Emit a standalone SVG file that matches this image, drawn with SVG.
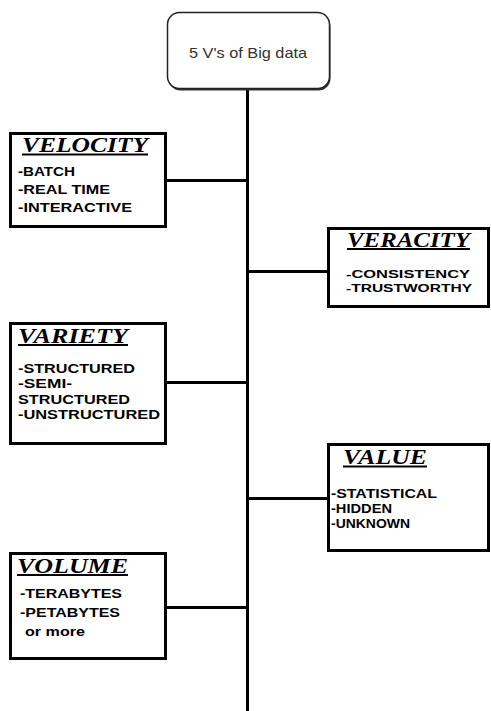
<svg xmlns="http://www.w3.org/2000/svg" width="491" height="711" viewBox="0 0 491 711">
<style>
.box{fill:#fff;stroke:#000;stroke-width:3}
.conn{stroke:#000;stroke-width:3;fill:none}
.title{font-family:"Liberation Serif",serif;font-weight:bold;font-style:italic;font-size:20px;fill:#000}
.ul{stroke:#000;stroke-width:2}
.item{font-family:"Liberation Sans",Arial,sans-serif;font-weight:bold;font-size:12.5px;fill:#000}
.small{font-size:11.5px}
.root{font-family:"Liberation Sans",Arial,sans-serif;font-size:15px;fill:#333}
</style>
<rect width="491" height="711" fill="#fff"/>
<g id="connectors">
<line class="conn" x1="247.5" y1="89" x2="247.5" y2="711"/>
<line class="conn" x1="166" y1="180.5" x2="247.5" y2="180.5"/>
<line class="conn" x1="247.5" y1="271.5" x2="328" y2="271.5"/>
<line class="conn" x1="166" y1="382.5" x2="247.5" y2="382.5"/>
<line class="conn" x1="247.5" y1="498.5" x2="328" y2="498.5"/>
<line class="conn" x1="166" y1="607.5" x2="247.5" y2="607.5"/>
</g>
<g id="root">
<rect x="168.5" y="14.5" width="162" height="76" rx="12" fill="#333"/>
<rect x="167.5" y="12.5" width="162" height="76" rx="12" fill="#fff" stroke="#222" stroke-width="1.5"/>
<text class="root" x="248" y="58" text-anchor="middle" textLength="118" lengthAdjust="spacingAndGlyphs">5 V's of Big data</text>
</g>
<g id="velocity">
<rect class="box" x="10.5" y="133.5" width="155" height="93"/>
<text class="title" x="22" y="152" textLength="126" lengthAdjust="spacingAndGlyphs">VELOCITY</text>
<line class="ul" x1="22" y1="154.5" x2="148" y2="154.5"/>
<text class="item" x="18" y="176" textLength="57" lengthAdjust="spacingAndGlyphs">-BATCH</text>
<text class="item" x="18" y="194" textLength="92" lengthAdjust="spacingAndGlyphs">-REAL TIME</text>
<text class="item" x="18" y="212" textLength="114" lengthAdjust="spacingAndGlyphs">-INTERACTIVE</text>
</g>
<g id="veracity">
<rect class="box" x="328.5" y="228.5" width="160" height="78"/>
<text class="title" x="347" y="247" textLength="123" lengthAdjust="spacingAndGlyphs">VERACITY</text>
<line class="ul" x1="347" y1="249" x2="470" y2="249"/>
<text class="item small" x="346" y="278" textLength="124" lengthAdjust="spacingAndGlyphs">-CONSISTENCY</text>
<text class="item small" x="346" y="292" textLength="126" lengthAdjust="spacingAndGlyphs">-TRUSTWORTHY</text>
</g>
<g id="variety">
<rect class="box" x="10.5" y="323.5" width="155" height="120"/>
<text class="title" x="18" y="343" textLength="110" lengthAdjust="spacingAndGlyphs">VARIETY</text>
<line class="ul" x1="18" y1="345" x2="128" y2="345"/>
<text class="item" x="18" y="373" textLength="117" lengthAdjust="spacingAndGlyphs">-STRUCTURED</text>
<text class="item" x="18" y="388" textLength="54" lengthAdjust="spacingAndGlyphs">-SEMI-</text>
<text class="item" x="18" y="404" textLength="112" lengthAdjust="spacingAndGlyphs">STRUCTURED</text>
<text class="item" x="18" y="419" textLength="142" lengthAdjust="spacingAndGlyphs">-UNSTRUCTURED</text>
</g>
<g id="value">
<rect class="box" x="328.5" y="444.5" width="160" height="106"/>
<text class="title" x="343" y="464" textLength="84" lengthAdjust="spacingAndGlyphs">VALUE</text>
<line class="ul" x1="343" y1="466.5" x2="427" y2="466.5"/>
<text class="item" x="331" y="498" textLength="106" lengthAdjust="spacingAndGlyphs">-STATISTICAL</text>
<text class="item" x="331" y="513" textLength="61" lengthAdjust="spacingAndGlyphs">-HIDDEN</text>
<text class="item" x="331" y="528" textLength="79" lengthAdjust="spacingAndGlyphs">-UNKNOWN</text>
</g>
<g id="volume">
<rect class="box" x="10.5" y="553.5" width="155" height="105"/>
<text class="title" x="17" y="573" textLength="111" lengthAdjust="spacingAndGlyphs">VOLUME</text>
<line class="ul" x1="17" y1="575" x2="128" y2="575"/>
<text class="item" x="20" y="598" textLength="102" lengthAdjust="spacingAndGlyphs">-TERABYTES</text>
<text class="item" x="20" y="617" textLength="100" lengthAdjust="spacingAndGlyphs">-PETABYTES</text>
<text class="item" x="25" y="636" textLength="60" lengthAdjust="spacingAndGlyphs">or more</text>
</g>
</svg>
